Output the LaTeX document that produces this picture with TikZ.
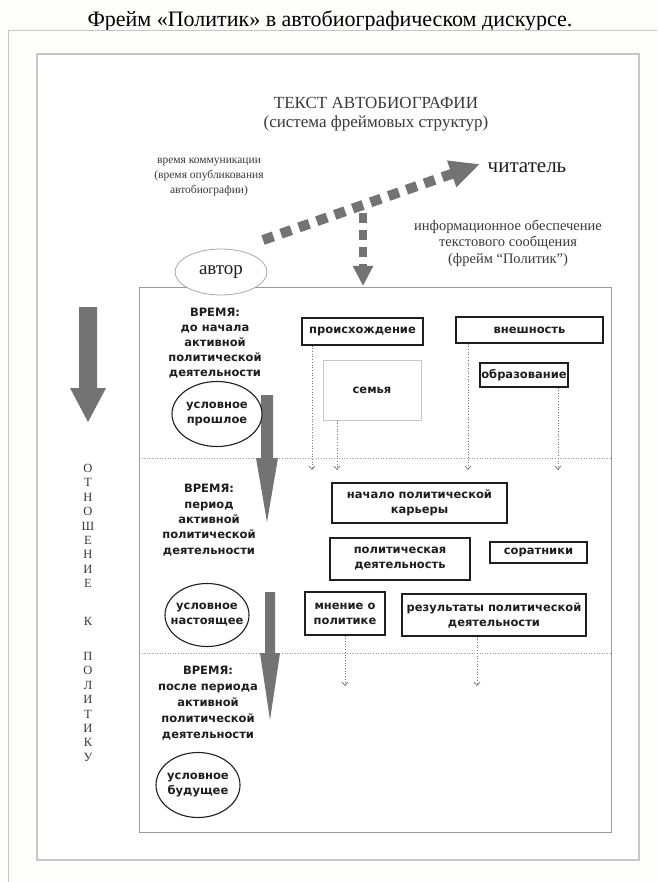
\documentclass[tikz,border=0pt]{standalone}
\usepackage{fontspec}
\setmainfont{Liberation Serif}
\newfontfamily\bsans{DejaVu Sans}
\usetikzlibrary{arrows.meta,shapes.geometric}
\definecolor{bg}{HTML}{FDFDFA}
\definecolor{framegray}{HTML}{C6C6C6}
\definecolor{boxgray}{HTML}{9A9A9A}
\definecolor{arrowgray}{HTML}{737373}
\definecolor{txtgray}{HTML}{3A3A3A}
\definecolor{dark}{HTML}{1E1E1E}
\tikzset{
  bold/.style={font=\bsans\bfseries\fontsize{11.5}{15}\selectfont, text=dark, align=center, inner sep=0pt},
  fb/.style={draw=dark, line width=1.3pt, fill=white, inner sep=0pt, font=\bsans\bfseries\fontsize{11.5}{15}\selectfont, text=dark, align=center},
  oval/.style={draw=dark, line width=1.1pt, fill=white},
  conn/.style={draw=arrowgray, dotted, line width=0.7pt, -{Straight Barb[length=3.5pt,width=6pt]}},
  sep/.style={draw=boxgray, dotted, line width=0.6pt},
  bigarrow/.style={fill=arrowgray},
}
\begin{document}
\begin{tikzpicture}[x=1pt,y=-1pt]
\useasboundingbox (0,0) rectangle (657,882);
\fill[bg] (0,0) rectangle (657,882);

% title
\node[font=\fontsize{22}{26}\selectfont, text=black, inner sep=0pt] (title) at (330,21) {Фрейм «Политик» в автобиографическом дискурсе.};

% frames
\draw[framegray, line width=1pt] (657,31) -- (8,31) -- (8,882);
\draw[framegray, line width=1.2pt, fill=white] (37,54) rectangle (639,860);
\draw[boxgray, line width=0.9pt] (139,287) rectangle (611,832);
\draw[sep] (139,458) -- (611,458);
\draw[sep] (139,653) -- (611,653);

% top labels
\node[font=\fontsize{17}{19}\selectfont, text=txtgray, align=center, inner sep=0pt] (textlbl) at (376,114) {ТЕКСТ АВТОБИОГРАФИИ\\(система фреймовых структур)};
\node[font=\fontsize{11.5}{15}\selectfont, text=txtgray, align=center, inner sep=0pt] (timelbl) at (209,177) {время коммуникации\\(время опубликования\\автобиографии)};
\node[font=\fontsize{21}{23}\selectfont, text=dark, inner sep=0pt] (reader) at (527,168) {читатель};
\node[font=\fontsize{14.5}{16.5}\selectfont, text=txtgray, align=center, inner sep=0pt] (info) at (508,243) {информационное обеспечение\\текстового сообщения\\(фрейм “Политик”)};

% author
\node[ellipse, draw=framegray!85!black, fill=white, line width=0.8pt, minimum width=92pt, minimum height=46pt, font=\fontsize{19}{21}\selectfont, text=dark] (author) at (221,272) {автор};

% dashed arrows
\coordinate (dA) at (263,240);
\coordinate (dB) at (480,164);
\coordinate (vA) at (363,213);
\coordinate (vB) at (363,286);
\draw[arrowgray, line width=10pt, dash pattern=on 11pt off 8pt, -{Triangle[length=30pt,width=26pt]}] (dA) -- (dB);
\draw[arrowgray, line width=8.5pt, dash pattern=on 10pt off 7pt, -{Triangle[length=20pt,width=19pt]}] (vA) -- (vB);

% big solid arrows
\fill[bigarrow] (79,307) -- (97,307) -- (97,388) -- (106,388) -- (88,422) -- (70,388) -- (79,388) -- cycle;
\fill[bigarrow] (261,395) -- (273,395) -- (273,458) -- (278,458) -- (267,522) -- (256,458) -- (261,458) -- cycle;
\fill[bigarrow] (265,592) -- (275,592) -- (275,653) -- (280,653) -- (270,720) -- (260,653) -- (265,653) -- cycle;

% time blocks
\node[bold] (t1) at (215,343) {ВРЕМЯ:\\до начала\\активной\\политической\\деятельности};
\node[bold, font=\bsans\bfseries\fontsize{11.5}{15.3}\selectfont] (t2) at (209,520) {ВРЕМЯ:\\период\\активной\\политической\\деятельности};
\node[bold, font=\bsans\bfseries\fontsize{11.5}{16}\selectfont] (t3) at (208,703) {ВРЕМЯ:\\после периода\\активной\\политической\\деятельности};

% ovals
\draw[oval] (217,414) ellipse [x radius=45, y radius=32.5];
\node[bold] (past) at (217,414) {условное\\прошлое};
\draw[oval] (207,615) ellipse [x radius=42, y radius=31.5];
\node[bold] (present) at (207,615) {условное\\настоящее};
\draw[oval] (198,785) ellipse [x radius=42, y radius=32.5];
\node[bold] (future) at (198,785) {условное\\будущее};

% frame boxes
\node[fb, minimum width=121pt, minimum height=27pt] (orig) at (362.5,331.5) {происхождение};
\node[fb, draw=framegray, line width=1pt, minimum width=98pt, minimum height=60pt] (family) at (372,390) {семья};
\node[fb, minimum width=147pt, minimum height=26pt] (looks) at (529.5,330) {внешность};
\node[fb, minimum width=88pt, minimum height=24pt] (edu) at (524,375) {образование};
\node[fb, minimum width=175pt, minimum height=40pt] (career) at (419.5,503) {начало политической\\карьеры};
\node[fb, minimum width=140pt, minimum height=42pt] (activity) at (400,559) {политическая\\деятельность};
\node[fb, minimum width=97pt, minimum height=21pt] (allies) at (538.5,552.5) {соратники};
\node[fb, minimum width=80pt, minimum height=43pt] (opinion) at (345,613.5) {мнение о\\политике};
\node[fb, minimum width=184pt, minimum height=42pt] (results) at (494,615) {результаты политической\\деятельности};

% connectors
\coordinate (e1) at (312,470);
\coordinate (e2) at (337,470);
\coordinate (e3) at (468,470);
\coordinate (e4) at (558,470);
\coordinate (e5) at (345,686);
\coordinate (e6) at (477,686);
\draw[conn] (orig.south -| e1) -- (e1);
\draw[conn] (family.south -| e2) -- (e2);
\draw[conn] (looks.south -| e3) -- (e3);
\draw[conn] (edu.south -| e4) -- (e4);
\draw[conn] (opinion.south -| e5) -- (e5);
\draw[conn] (results.south -| e6) -- (e6);

% vertical text
\node[font=\fontsize{12.5}{14.4}\selectfont, text=txtgray, align=center, anchor=north, inner sep=0pt] (vert) at (88,464) {О\\Т\\Н\\О\\Ш\\Е\\Н\\И\\Е\\[23pt]К\\[21pt]П\\О\\Л\\И\\Т\\И\\К\\У};
\end{tikzpicture}
\end{document}
